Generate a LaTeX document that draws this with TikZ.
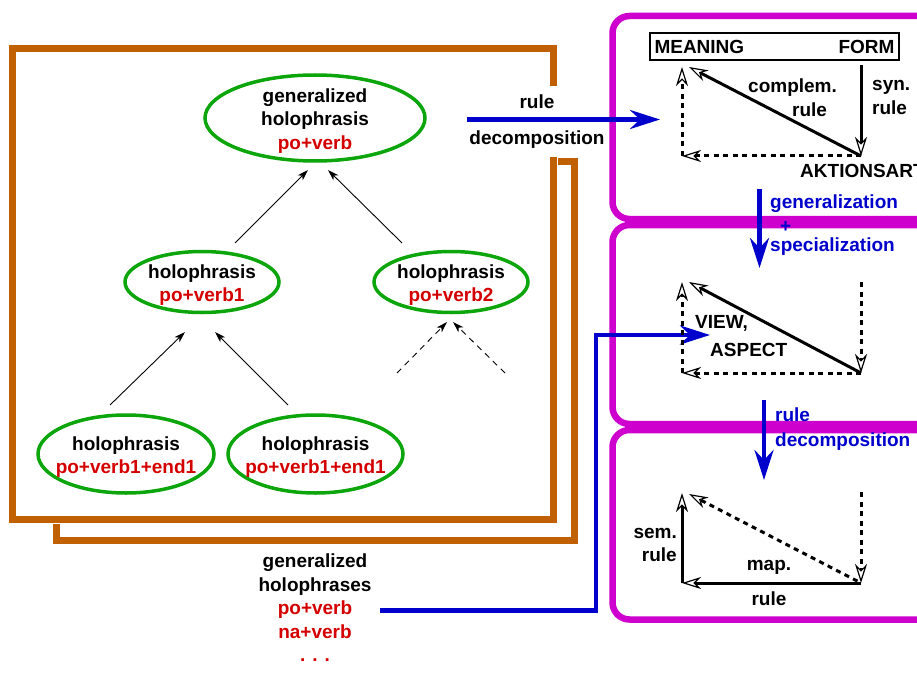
\documentclass[tikz,border=0pt]{standalone}
\usepackage{fontspec}
\setmainfont{Liberation Sans}
\usepackage{tikz}
\usetikzlibrary{
  arrows.meta,
  positioning,
  shapes.geometric
}
\usepackage{xcolor}
\definecolor{hbrown}{RGB}{192,96,0}
\definecolor{hgreen}{RGB}{12,165,12}
\definecolor{hred}{RGB}{212,0,0}
\definecolor{hblue}{RGB}{0,0,204}
\definecolor{hmagenta}{RGB}{206,0,206}

\begin{document}
\begin{tikzpicture}[
  x=1pt, y=-1pt,
  font=\fontsize{19}{23.5}\selectfont\bfseries,
  frame/.style={draw=hbrown, line width=7pt},
  panel/.style={draw=hmagenta, line width=6.5pt, rounded corners=17pt},
  holo/.style={draw=hgreen, ellipse, line width=3.5pt, inner sep=0pt},
  holotext/.style={align=center, inner sep=0pt},
  holoin/.style={holotext, yshift=-3pt},
  tree/.style={-{Stealth[length=11pt, width=7pt, inset=3pt]}, line width=0.9pt},
  treedash/.style={tree, dash pattern=on 6pt off 5pt},
  bluearrow/.style={-{Stealth[length=30pt, width=19pt, inset=10pt]}, draw=hblue, line width=4.5pt},
  lbl/.style={inner sep=0pt},
  bluelbl/.style={lbl, text=hblue, anchor=west},
  solidarr/.style={-{Stealth[open, fill=white, line width=1.2pt, length=19pt, width=12pt, inset=6pt]}, line width=3pt},
  dasharr/.style={solidarr, dash pattern=on 5pt off 4.5pt}
]
  \clip (0,0) rectangle (917,679);

  % Panels
  \draw[panel] (612.5,16) rectangle (960,219);
  \draw[panel] (612.5,225) rectangle (960,424);
  \draw[panel] (612.5,430) rectangle (960,619.5);

  % Frames
  \draw[frame] (558,161.5) -- (574.5,161.5) -- (574.5,540) -- (56,540) -- (56,524);
  \draw[frame] (553.5,86) -- (553.5,49) -- (12.5,49) -- (12.5,519) -- (553.5,519) -- (553.5,157);

  % Holophrases
  \node[holo, minimum width=220, minimum height=86,
    label={[holoin]center:{generalized\\holophrasis\\\textcolor{hred}{po+verb}}}] (gen) at (315,118) {};
  \node[holo, minimum width=154, minimum height=61,
    label={[holoin]center:{holophrasis\\\textcolor{hred}{po+verb1}}}] (midl) at (202,282) {};
  \node[holo, minimum width=154, minimum height=61,
    label={[holoin]center:{holophrasis\\\textcolor{hred}{po+verb2}}}] (midr) at (451,282) {};
  \node[holo, minimum width=176, minimum height=78,
    label={[holoin]center:{holophrasis\\\textcolor{hred}{po+verb1+end1}}}] (leafl) at (126,454) {};
  \node[holo, minimum width=175, minimum height=78,
    label={[holoin]center:{holophrasis\\\textcolor{hred}{po+verb1+end1}}}] (leafr) at (315.5,454) {};

  % Tree arrows
  \coordinate (midlout) at (235,243);
  \coordinate (midrout) at (402,243);
  \coordinate (genl) at (308,170);
  \coordinate (genr) at (328,170);
  \coordinate (leaflout) at (110,405);
  \coordinate (leafrout) at (288,405);
  \coordinate (midll) at (185,332);
  \coordinate (midlr) at (215,332);
  \coordinate (dashl) at (397,373);
  \coordinate (dashr) at (505,373);
  \coordinate (midrl) at (447,322);
  \coordinate (midrr) at (453,322);
  \draw[tree] (midlout) -- (genl);
  \draw[tree] (midrout) -- (genr);
  \draw[tree] (leaflout) -- (midll);
  \draw[tree] (leafrout) -- (midlr);
  \draw[treedash] (dashl) -- (midrl);
  \draw[treedash] (dashr) -- (midrr);

  % Generalized holophrases
  \node[holotext, anchor=north] (hols) at (315,554)
    {generalized\\holophrases\\\textcolor{hred}{po+verb}\\\textcolor{hred}{na+verb}\\
     \textcolor{hred}{. . .}\\\textcolor{hred}{. . .}};

  % Blue arrows
  \node[lbl] (rulelbl) at (537,102) {rule};
  \node[lbl] (decomplbl) at (537,140) {decomposition};
  \coordinate (decin) at (467,119.5);
  \coordinate (p1in) at (660,119.5);
  \draw[bluearrow] (decin) -- (p1in);

  \coordinate (hsout) at (380,610.5);
  \coordinate (hsbend) at (596,335);
  \coordinate (viewin) at (710,335);
  \draw[bluearrow] (hsout) -| (hsbend) -- (viewin);

  \coordinate (gtop) at (759.5,189);
  \coordinate (gbot) at (759.5,268);
  \draw[bluearrow] (gtop) -- (gbot);
  \node[bluelbl] (genlbl) at (770,204) {generalization};
  \node[bluelbl] (pluslbl) at (780,227) {+};
  \node[bluelbl] (speclbl) at (770,247) {specialization};

  \coordinate (rtop) at (764,400);
  \coordinate (rbot) at (764,480);
  \draw[bluearrow] (rtop) -- (rbot);
  \node[bluelbl] (rrulelbl) at (775,415) {rule};
  \node[bluelbl] (rdeclbl) at (775,442) {decomposition};

  % Panel 1
  \node[draw, line width=1.2pt, text width=240, inner xsep=4.5pt, inner ysep=0pt,
    minimum height=27] (mfbox) at (774.5,46.5) {MEANING\hfill FORM};
  \coordinate (f1) at (861,65);
  \coordinate (a1) at (861,156);
  \coordinate (m1) at (682,67);
  \coordinate (d1) at (689,67);
  \coordinate (b1) at (682,156);
  \draw[solidarr] (f1) -- (a1);
  \draw[solidarr] (a1) -- (d1);
  \draw[dasharr] (a1) -- (b1);
  \draw[dasharr] (b1) -- (m1);
  \node[lbl, align=left, anchor=west] (complem) at (748,97.5) {complem.\\\hspace*{44pt}rule};
  \node[lbl, align=left, anchor=west] (syn) at (872,97.5) {syn.\\rule};
  \node[lbl, anchor=west] (akt) at (800,171) {AKTIONSART};

  % Panel 2
  \coordinate (f2) at (861,282);
  \coordinate (a2) at (861,373);
  \coordinate (m2) at (682,282);
  \coordinate (d2) at (689,282);
  \coordinate (b2) at (682,373);
  \draw[solidarr] (a2) -- (d2);
  \draw[dasharr] (a2) -- (b2);
  \draw[dasharr] (b2) -- (m2);
  \draw[dasharr] (f2) -- (a2);
  \node[lbl, anchor=west] (view) at (695,323.5) {VIEW,};
  \node[lbl, anchor=west] (aspect) at (710,350) {ASPECT};

  % Panel 3
  \coordinate (f3) at (861,492);
  \coordinate (a3) at (861,583);
  \coordinate (m3) at (682,493);
  \coordinate (d3) at (689,494);
  \coordinate (b3) at (682,583);
  \draw[solidarr] (b3) -- (m3);
  \draw[solidarr] (a3) -- (b3);
  \draw[dasharr, shorten <=4pt] (a3) -- (d3);
  \draw[dasharr] (f3) -- (a3);
  \node[lbl, align=right, anchor=east] (sem) at (677,545) {sem.\\rule};
  \node[lbl] (map) at (769,567) {map.};
  \node[lbl] (maprule) at (769,599) {rule};

\end{tikzpicture}
\end{document}
